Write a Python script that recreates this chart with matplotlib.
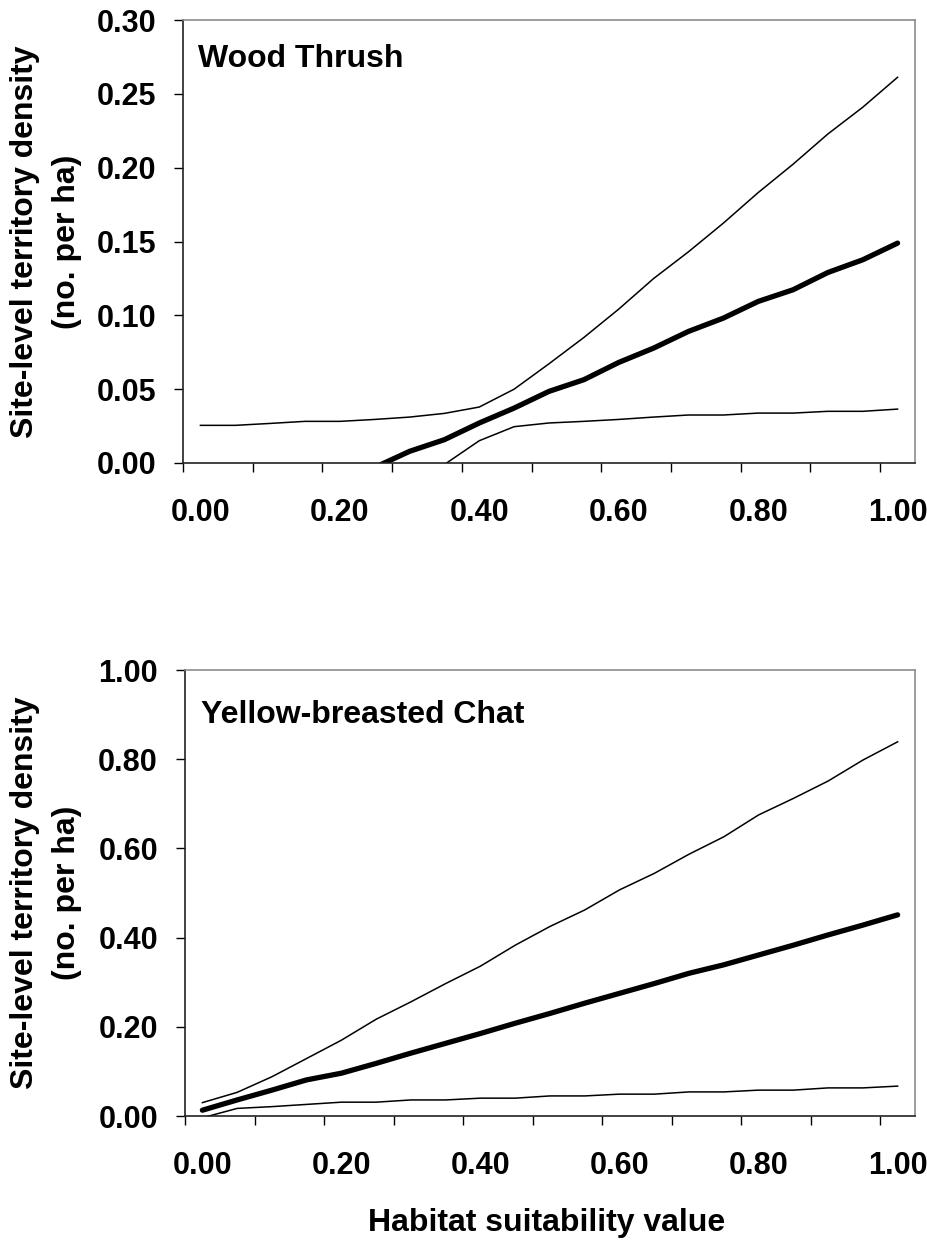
import numpy as np
import matplotlib
matplotlib.use("Agg")
import matplotlib.pyplot as plt

plt.rcParams['font.family'] = ['Liberation Sans', 'DejaVu Sans']
plt.rcParams['font.weight'] = 'bold'

# Habitat suitability categories (0.00 .. 1.00 in steps of 0.05)
hsv = [0.00, 0.05, 0.10, 0.15, 0.20, 0.25, 0.30, 0.35, 0.40, 0.45, 0.50,
       0.55, 0.60, 0.65, 0.70, 0.75, 0.80, 0.85, 0.90, 0.95, 1.00]

# Wood Thrush: predicted density with upper / lower bounds
wt_upper = [0.0255, 0.0255, 0.0268, 0.0282, 0.0282, 0.0295, 0.0311, 0.0336,
            0.0379, 0.0500, 0.0672, 0.0850, 0.1042, 0.1249, 0.1430, 0.1624,
            0.1831, 0.2023, 0.2228, 0.2409, 0.2612]
wt_mean = [-0.049, -0.040, -0.030, -0.021, -0.012, -0.003, 0.0079, 0.0158,
           0.0271, 0.0372, 0.0485, 0.0564, 0.0681, 0.0778, 0.0891, 0.0981,
           0.1094, 0.1173, 0.1290, 0.1376, 0.1489]
wt_lower = [-0.120, -0.100, -0.085, -0.070, -0.050, -0.035, -0.017, -0.001,
            0.0151, 0.0246, 0.0271, 0.0282, 0.0295, 0.0311, 0.0325, 0.0325,
            0.0338, 0.0338, 0.0350, 0.0350, 0.0365]

# Yellow-breasted Chat: predicted density with upper / lower bounds
ybc_upper = [0.030, 0.053, 0.088, 0.129, 0.170, 0.217, 0.256, 0.297, 0.336,
             0.383, 0.425, 0.462, 0.507, 0.544, 0.587, 0.626, 0.675, 0.712,
             0.751, 0.798, 0.839]
ybc_mean = [0.013, 0.036, 0.058, 0.081, 0.096, 0.118, 0.141, 0.163, 0.185,
            0.208, 0.230, 0.253, 0.275, 0.297, 0.320, 0.339, 0.361, 0.383,
            0.406, 0.428, 0.451]
ybc_lower = [-0.004, 0.017, 0.021, 0.026, 0.031, 0.031, 0.036, 0.036, 0.040,
             0.040, 0.045, 0.045, 0.049, 0.049, 0.054, 0.054, 0.058, 0.058,
             0.063, 0.063, 0.067]

x_labels = ["0.00", "0.20", "0.40", "0.60", "0.80", "1.00"]
wt_yticks = [0.00, 0.05, 0.10, 0.15, 0.20, 0.25, 0.30]
ybc_yticks = [0.00, 0.20, 0.40, 0.60, 0.80, 1.00]

FS_TICK = 22
FS_TEXT = 23
W, H = 927, 1240
fig = plt.figure(figsize=(W / 100, H / 100), dpi=100)


def px_axes(left, right, top, bottom):
    return fig.add_axes([left / W, 1 - bottom / H, (right - left) / W, (bottom - top) / H])


def style_panel(ax, yticks, ymax, title, title_xy, label_cy):
    n = len(hsv)
    x = np.arange(n)
    ax.set_xlim(-0.5, n - 0.5)
    ax.set_ylim(0, ymax)
    # category boundaries every two categories carry the tick marks
    ax.set_xticks(np.arange(-0.5, n - 1, 2.0))
    ax.set_xticklabels([])
    lab_pos = [hsv.index(float(s)) for s in x_labels]
    ax.set_xticks(lab_pos, minor=True)
    ax.set_xticklabels(x_labels, minor=True)
    ax.tick_params(axis='x', which='major', direction='out', length=6.5, width=1, color='black')
    ax.tick_params(axis='x', which='minor', length=0, pad=25, labelsize=FS_TICK)
    ax.set_yticks(yticks)
    ax.set_yticklabels([f"{v:.2f}" for v in yticks])
    ax.tick_params(axis='y', direction='out', length=6.5, width=1, pad=13, labelsize=FS_TICK)
    for s in ('top', 'right'):
        ax.spines[s].set_color('#8c8c8c')
        ax.spines[s].set_linewidth(1.2)
    for s in ('left', 'bottom'):
        ax.spines[s].set_color('#222222')
        ax.spines[s].set_linewidth(1.2)
    ax.text(title_xy[0], title_xy[1], title, transform=ax.transAxes,
            fontsize=FS_TEXT, fontweight='bold', va='baseline', ha='left')
    # two-line y-axis title, written as separate rotated lines
    fig.text(25 / W, 1 - label_cy / H, "Site-level territory density", rotation=90,
             fontsize=FS_TEXT, fontweight='bold', ha='center', va='center')
    fig.text(67 / W, 1 - label_cy / H, "(no. per ha)", rotation=90,
             fontsize=FS_TEXT, fontweight='bold', ha='center', va='center')
    return x


ax1 = px_axes(183, 915, 20, 463)
x = style_panel(ax1, wt_yticks, 0.30, "Wood Thrush", (0.021, 0.894), 242)
ax1.plot(x, wt_upper, color='black', lw=1.1)
ax1.plot(x, wt_lower, color='black', lw=1.1)
ax1.plot(x, wt_mean, color='black', lw=3.8, solid_capstyle='round')

ax2 = px_axes(185, 915, 670, 1116)
x = style_panel(ax2, ybc_yticks, 1.00, "Yellow-breasted Chat", (0.022, 0.881), 893)
ax2.plot(x, ybc_upper, color='black', lw=1.1)
ax2.plot(x, ybc_lower, color='black', lw=1.1)
ax2.plot(x, ybc_mean, color='black', lw=3.8, solid_capstyle='round')

fig.text(547 / W, 1 - 1223 / H, "Habitat suitability value", fontsize=FS_TEXT,
         fontweight='bold', ha='center', va='center')

fig.savefig("out.png", dpi=100)
